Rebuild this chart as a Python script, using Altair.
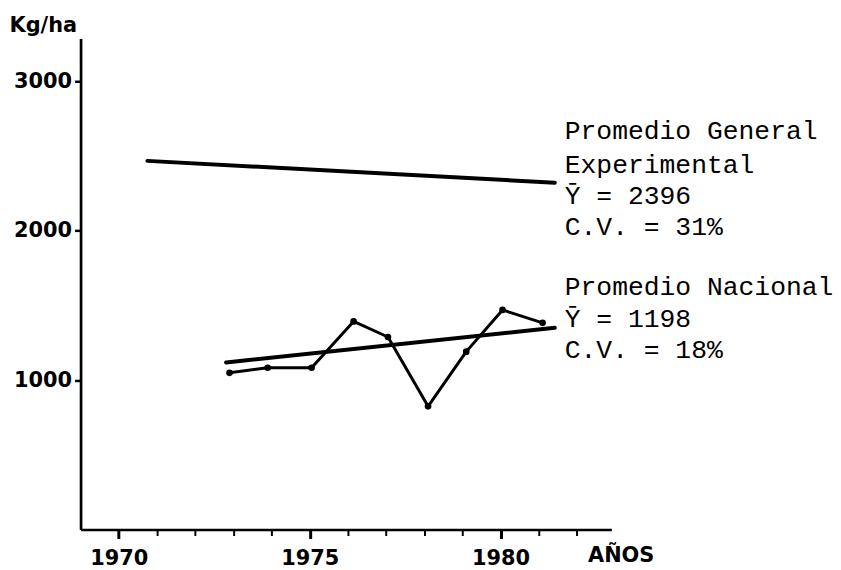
import altair as alt
import pandas as pd

# National yearly yields (Kg/ha), positions
nat_year = [1972.9, 1973.9, 1975.05, 1976.15, 1977.05, 1978.1, 1979.1, 1980.05, 1981.1]
nat_yield = [1049, 1083, 1083, 1393, 1289, 825, 1191, 1470, 1384]

# Trend lines (start / end points)
trend_series = ["Experimental", "Experimental", "Nacional", "Nacional"]
trend_year = [1970.75, 1981.42, 1972.81, 1981.42]
trend_yield = [2468, 2322, 1118, 1351]

# Annotation texts
note_text = ["Promedio General", "Experimental", "\u0232 = 2396", "C.V. = 31%",
             "Promedio Nacional", "\u0232 = 1198", "C.V. = 18%"]
note_year = [1981.68] * 7
note_yield = [2615, 2389, 2182, 1969, 1570, 1357, 1151]

x_ticks = list(range(1970, 1983))
y_ticks = [1000, 2000, 3000]

nat_df = pd.DataFrame({"year": nat_year, "yield": nat_yield})
trend_df = pd.DataFrame({"series": trend_series, "year": trend_year, "yield": trend_yield})
note_df = pd.DataFrame({"text": note_text, "year": note_year, "yield": note_yield})

LBL_FONT = "DejaVu Sans"
LBL_SIZE = 21

x_scale = alt.Scale(domain=[1969, 1982.9], nice=False, zero=False)
y_scale = alt.Scale(domain=[0, 3287], nice=False, zero=True)

x_axis = alt.Axis(
    values=x_ticks,
    labelExpr="datum.value % 5 === 0 ? '' + datum.value : ''",
    title="AÑOS", titleX=510, titleY=32, titleAlign="left", titleBaseline="alphabetic",
    titleFont=LBL_FONT, titleFontSize=LBL_SIZE, titleFontWeight="bold", titleColor="black",
    labelFont=LBL_FONT, labelFontSize=LBL_SIZE, labelFontWeight="bold", labelColor="black",
    labelPadding=9, labelFlush=False, labelOverlap=False,
    tickSize={"condition": {"test": "datum.value % 5 === 0", "value": 9}, "value": 6},
    tickWidth={"condition": {"test": "datum.value % 5 === 0", "value": 3}, "value": 2},
    tickColor="black", domainColor="black", domainWidth=2.5, grid=False,
)
y_axis = alt.Axis(
    values=y_ticks, format="d",
    title="Kg/ha", titleAngle=0, titleX=-72, titleY=-7, titleAlign="left", titleBaseline="alphabetic",
    titleFont=LBL_FONT, titleFontSize=LBL_SIZE, titleFontWeight="bold", titleColor="black",
    labelFont=LBL_FONT, labelFontSize=LBL_SIZE, labelFontWeight="bold", labelColor="black",
    labelPadding=3, tickSize=6, tickWidth=2.5, tickColor="black",
    domainColor="black", domainWidth=2.7, grid=False,
)

trend = alt.Chart(trend_df).mark_line(color="black", strokeWidth=4, strokeCap="round").encode(
    x=alt.X("year:Q", scale=x_scale, axis=x_axis),
    y=alt.Y("yield:Q", scale=y_scale, axis=y_axis),
    detail="series:N",
)

nat_line = alt.Chart(nat_df).mark_line(color="black", strokeWidth=3, strokeJoin="round").encode(
    x=alt.X("year:Q", scale=x_scale),
    y=alt.Y("yield:Q", scale=y_scale),
)
nat_pts = alt.Chart(nat_df).mark_circle(color="black", size=45, opacity=1).encode(
    x=alt.X("year:Q", scale=x_scale),
    y=alt.Y("yield:Q", scale=y_scale),
)

notes = alt.Chart(note_df).mark_text(
    align="left", baseline="alphabetic", font="Liberation Mono", fontSize=26.5, color="black"
).encode(
    x=alt.X("year:Q", scale=x_scale),
    y=alt.Y("yield:Q", scale=y_scale),
    text="text:N",
)

chart = alt.layer(trend, nat_line, nat_pts, notes).properties(
    width=534, height=494,
    autosize=alt.AutoSizeParams(type="none"),
    padding={"left": 73, "top": 29, "right": 223, "bottom": 41},
    background="white",
).configure_view(stroke=None)

chart.save("out.html", embed_options={"renderer": "svg", "actions": False})
